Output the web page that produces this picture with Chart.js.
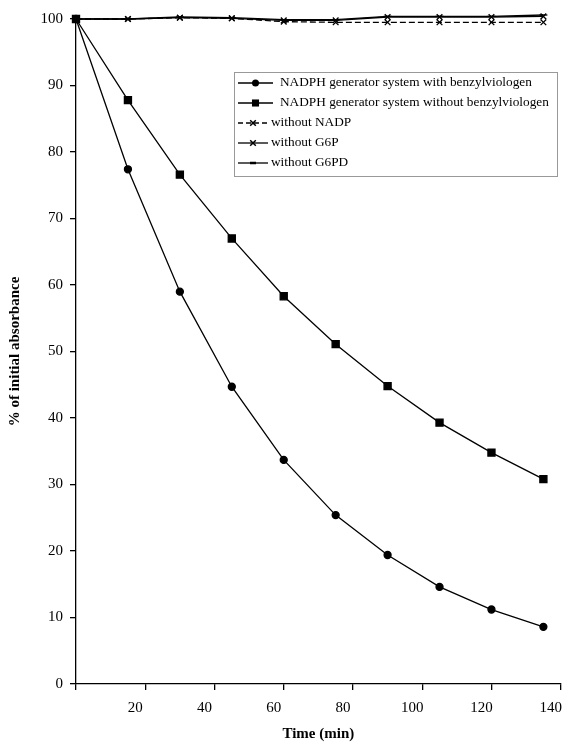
<!DOCTYPE html>
<html>
<head>
<meta charset="utf-8">
<script src="https://cdn.jsdelivr.net/npm/chart.js@4.4.0/dist/chart.umd.min.js"></script>
<style>
  body { margin: 0; background: #fff; }
</style>
</head>
<body>
<canvas id="absChart" width="567" height="745"></canvas>
<script>
// time points (min)
const times = [0, 15, 30, 45, 60, 75, 90, 105, 120, 135];

// % of initial absorbance
const withBV = [100, 77.4, 59.0, 44.7, 33.7, 25.4, 19.4, 14.6, 11.2, 8.6];
const withoutBV = [100, 87.8, 76.6, 67.0, 58.3, 51.1, 44.8, 39.3, 34.8, 30.8];
const noNADP = [100, 100, 100.2, 100.1, 99.6, 99.5, 99.5, 99.5, 99.5, 99.5];
const noG6P = [100, 100, 100.2, 100.1, 99.8, 99.8, 100.3, 100.3, 100.3, 100.4];
const noG6PD = [100, 100, 100.3, 100.2, 99.9, 99.9, 100.4, 100.4, 100.4, 100.6];

const seriesNames = [
    'NADPH generator system with benzylviologen',
    'NADPH generator system without benzylviologen',
    'without NADP',
    'without G6P',
    'without G6PD'
];

const xTicks = [0, 20, 40, 60, 80, 100, 120, 140];
const yTicks = [0, 10, 20, 30, 40, 50, 60, 70, 80, 90, 100];

const serif = "'Liberation Serif', 'DejaVu Serif', serif";

function pts(values) {
    return values.map((v, i) => ({ x: times[i], y: v }));
}

function series(label, values, style, radius, dash) {
    return {
        label: label,
        data: pts(values),
        borderColor: '#000',
        backgroundColor: '#000',
        borderWidth: 1.3,
        borderDash: dash || [],
        pointStyle: style,
        pointRadius: radius,
        pointBorderWidth: 1.3,
        tension: 0,
        showLine: true,
        clip: false
    };
}

// draws a marker the same way for the legend
function marker(ctx, style, x, y, r) {
    ctx.save();
    ctx.fillStyle = '#000';
    ctx.strokeStyle = '#000';
    ctx.lineWidth = 1.5;
    ctx.setLineDash([]);
    ctx.beginPath();
    if (style === 'circle') {
        ctx.arc(x, y, r, 0, Math.PI * 2);
        ctx.fill();
    } else if (style === 'rect') {
        const s = r * Math.SQRT1_2;
        ctx.fillRect(x - s, y - s, 2 * s, 2 * s);
    } else if (style === 'crossRot') {
        ctx.moveTo(x - r * 0.7, y - r * 0.7);
        ctx.lineTo(x + r * 0.7, y + r * 0.7);
        ctx.moveTo(x + r * 0.7, y - r * 0.7);
        ctx.lineTo(x - r * 0.7, y + r * 0.7);
        ctx.stroke();
    } else if (style === 'line') {
        ctx.lineWidth = 2.5;
        ctx.moveTo(x - r, y);
        ctx.lineTo(x + r, y);
        ctx.stroke();
    }
    ctx.restore();
}

const boxLegend = {
    id: 'boxLegend',
    afterDraw(chart, args, opts) {
        const ctx = chart.ctx;
        ctx.save();
        ctx.strokeStyle = '#999';
        ctx.lineWidth = 1;
        ctx.strokeRect(opts.left + 0.5, opts.top + 0.5, opts.width, opts.height);
        ctx.font = '13.3px ' + serif;
        ctx.fillStyle = '#000';
        ctx.textBaseline = 'middle';
        chart.data.datasets.forEach((ds, i) => {
            const y = opts.top + opts.firstRow + i * opts.rowGap;
            const x0 = opts.left + 4;
            const len = i < 2 ? 35 : 30;
            ctx.strokeStyle = '#000';
            ctx.lineWidth = 1.3;
            ctx.setLineDash(ds.borderDash.length ? [5, 3] : []);
            ctx.beginPath();
            ctx.moveTo(x0, y);
            ctx.lineTo(x0 + len, y);
            ctx.stroke();
            marker(ctx, ds.pointStyle, x0 + len / 2, y, ds.pointStyle === 'line' ? 3 : ds.pointRadius);
            ctx.fillText(ds.label, x0 + len + (i < 2 ? 7 : 3), y);
        });
        ctx.restore();
    }
};

new Chart(document.getElementById('absChart'), {
    type: 'scatter',
    data: {
        datasets: [
            series(seriesNames[0], withBV, 'circle', 3.5),
            series(seriesNames[1], withoutBV, 'rect', 5),
            series(seriesNames[2], noNADP, 'crossRot', 4, [6, 3]),
            series(seriesNames[3], noG6P, 'crossRot', 4),
            series(seriesNames[4], noG6PD, 'line', 4)
        ]
    },
    options: {
        responsive: false,
        animation: false,
        layout: { padding: { top: 19, right: 5, left: 0, bottom: 0 } },
        plugins: {
            legend: { display: false },
            tooltip: { enabled: false },
            boxLegend: { left: 234, top: 72, width: 323, height: 104, firstRow: 11, rowGap: 20 }
        },
        scales: {
            x: {
                type: 'linear',
                min: 0,
                max: 140,
                afterBuildTicks: s => { s.ticks = xTicks.map(v => ({ value: v })); },
                afterFit: s => { s.height = 61; s.paddingRight = 5; },
                grid: { drawOnChartArea: false, color: '#000', tickLength: 6, lineWidth: 1.3 },
                border: { color: '#000', width: 1.3 },
                ticks: {
                    color: '#000',
                    padding: 9,
                    labelOffset: -10,
                    maxRotation: 0,
                    font: { family: serif, size: 15 },
                    callback: v => (v === 0 ? '' : v)
                },
                title: {
                    display: true,
                    text: 'Time (min)',
                    color: '#000',
                    padding: { top: 4, bottom: 2 },
                    font: { family: serif, size: 15, weight: 'bold' }
                }
            },
            y: {
                min: 0,
                max: 100,
                afterBuildTicks: s => { s.ticks = yTicks.map(v => ({ value: v })); },
                afterFit: s => { s.width = 76; },
                grid: { drawOnChartArea: false, color: '#000', tickLength: 6, lineWidth: 1.3 },
                border: { color: '#000', width: 1.3 },
                ticks: {
                    color: '#000',
                    padding: 7,
                    font: { family: serif, size: 15 }
                },
                title: {
                    display: true,
                    text: '% of initial absorbance',
                    color: '#000',
                    padding: { top: 6, bottom: 0 },
                    font: { family: serif, size: 15, weight: 'bold' }
                }
            }
        }
    },
    plugins: [boxLegend]
});
</script>
</body>
</html>
